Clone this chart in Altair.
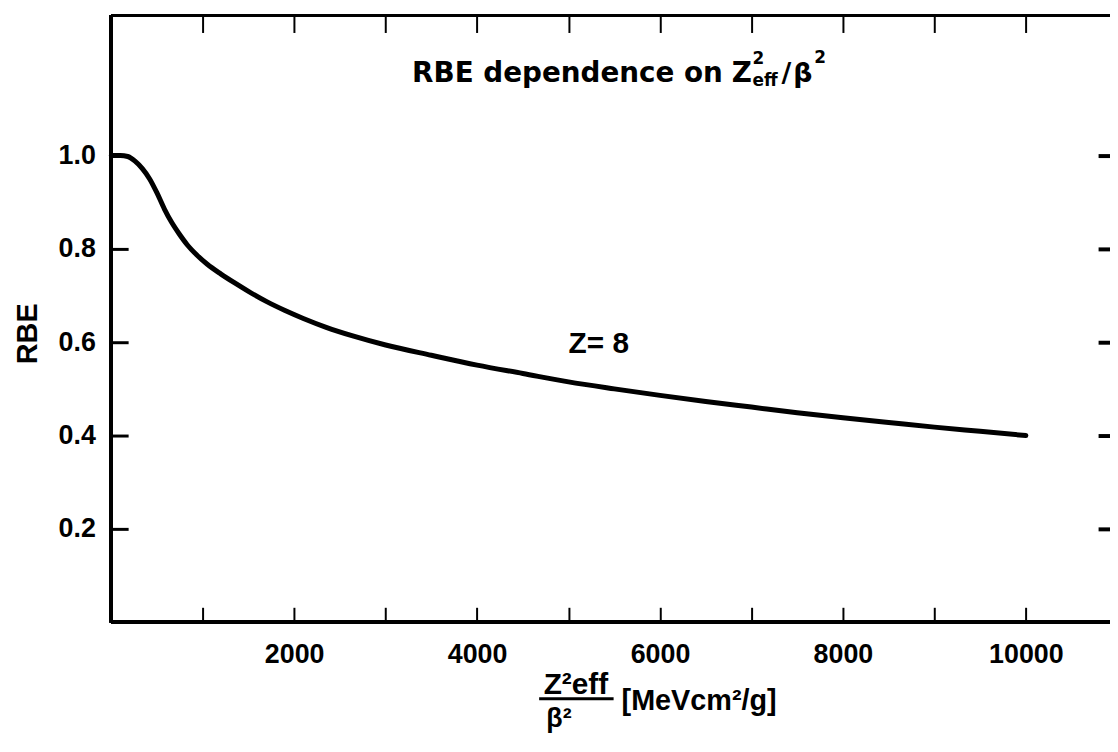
import altair as alt
import pandas as pd

# ---- data ----
x_vals = [0, 100, 180, 260, 340, 420, 500, 580, 660, 740,
          830, 930, 1050, 1200, 1350, 1500, 1700, 1900, 2100, 2350,
          2650, 3000, 3500, 4000, 4500, 5000, 5500, 6000, 6500, 7000,
          7500, 8000, 8500, 9000, 9500, 10000]
rbe_vals = [1.0, 1.0, 0.998, 0.988, 0.972, 0.950, 0.920, 0.886, 0.857, 0.833,
            0.809, 0.788, 0.767, 0.746, 0.727, 0.709, 0.687, 0.668, 0.651, 0.632,
            0.613, 0.594, 0.572, 0.551, 0.533, 0.515, 0.500, 0.486, 0.473, 0.461,
            0.449, 0.438, 0.428, 0.418, 0.409, 0.400]
x_ticks = [1000, 2000, 3000, 4000, 5000, 6000, 7000, 8000, 9000, 10000]
y_ticks = [0.2, 0.4, 0.6, 0.8, 1.0]
x_domain = [0, 10920]
y_domain = [0, 1.3]
curve_label = "Z= 8"
curve_label_pos = [5000, 0.577]

df = pd.DataFrame({"x": x_vals, "rbe": rbe_vals})

W, H = 1006, 611
LBL_FONT = "Liberation Sans"
TTL_FONT = "DejaVu Sans"

xscale = alt.Scale(domain=x_domain, nice=False, zero=False)
yscale = alt.Scale(domain=y_domain, nice=False, zero=False)

bottom_axis = alt.Axis(orient="bottom", values=x_ticks, domain=False, grid=False,
                       tickSize=15, offset=-15, tickWidth=2, tickColor="black",
                       labelPadding=20, labelFont=LBL_FONT, labelFontSize=27,
                       labelFontWeight="bold", labelColor="black",
                       labelFlush=False, labelOverlap=False,
                       labelExpr="datum.value % 2000 == 0 ? format(datum.value, 'd') : ''",
                       title=None)
left_axis = alt.Axis(orient="left", values=y_ticks, format=".1f", domain=False, grid=False,
                     tickSize=17, offset=-17, tickWidth=3, tickColor="black",
                     labelPadding=16, labelFont=LBL_FONT, labelFontSize=27,
                     labelFontWeight="bold", labelColor="black",
                     labelFlush=False, labelOverlap=False,
                     title="RBE", titleFont=LBL_FONT, titleFontSize=29,
                     titleFontWeight="bold", titleColor="black",
                     titleAngle=270, titleAlign="center", titleBaseline="middle",
                     titleX=-101, titleY=320)
top_axis = alt.Axis(orient="top", values=x_ticks, domain=False, grid=False,
                    tickSize=17, offset=-17, tickWidth=2, tickColor="black",
                    labels=False, title=None)
right_axis = alt.Axis(orient="right", values=y_ticks, domain=False, grid=False,
                      tickSize=12, offset=-12, tickWidth=4, tickColor="black",
                      labels=False, title=None)

curve = alt.Chart(df).mark_line(color="black", strokeWidth=5, interpolate="monotone",
                                strokeCap="round").encode(
    x=alt.X("x:Q", scale=xscale, axis=bottom_axis),
    y=alt.Y("rbe:Q", scale=yscale, axis=left_axis),
)
ghost = alt.Chart(df).mark_line(opacity=0).encode(
    x=alt.X("x:Q", scale=xscale, axis=top_axis),
    y=alt.Y("rbe:Q", scale=yscale, axis=right_axis),
)

frame_left = alt.Chart(df).mark_rule(color="black", strokeWidth=3).encode(
    x=alt.X(datum=x_domain[0], type="quantitative", scale=xscale, axis=None))
frame_bottom = alt.Chart(df).mark_rule(color="black", strokeWidth=3).encode(
    y=alt.Y(datum=y_domain[0], type="quantitative", scale=yscale, axis=None))
frame_top = alt.Chart(df).mark_rule(color="black", strokeWidth=3).encode(
    y=alt.Y(datum=y_domain[1], type="quantitative", scale=yscale, axis=None))

zlabel = alt.Chart(pd.DataFrame({"t": [curve_label]})).mark_text(
    font=LBL_FONT, fontSize=30, fontWeight="bold", color="black",
    align="left", baseline="alphabetic").encode(
    x=alt.X(datum=curve_label_pos[0], type="quantitative", scale=xscale, axis=None),
    y=alt.Y(datum=curve_label_pos[1], type="quantitative", scale=yscale, axis=None),
    text="t:N")


def txt(s, px, py, size, font=TTL_FONT, align="left"):
    return alt.Chart(pd.DataFrame({"t": [s]})).mark_text(
        font=font, fontSize=size, fontWeight="bold", color="black",
        align=align, baseline="alphabetic").encode(
        x=alt.value(px), y=alt.value(py), text="t:N")


# in-plot title: "RBE dependence on Z^2_eff / beta^2"
title_parts = [
    txt("RBE dependence on", 303, 67, 28),
    txt("Z", 625, 67, 28),
    txt("2", 646, 49, 17),
    txt("eff", 646, 71, 17),
    txt("/", 675, 67, 27),
    txt("β", 687, 67, 27),
    txt("2", 708, 48, 17),
]

# x-axis title as a fraction Z^2eff / beta^2 [MeVcm^2/g]
xtitle_parts = [
    txt("Z²eff", 468, 683, 30, font=LBL_FONT, align="center"),
    txt("β²", 451, 717, 27, font=LBL_FONT, align="center"),
    txt("[MeVcm²/g]", 514, 699, 29, font=LBL_FONT),
]
frac_bar = alt.Chart(pd.DataFrame({"t": [0]})).mark_rule(color="black", strokeWidth=3).encode(
    x=alt.value(431), x2=alt.value(506), y=alt.value(688))

chart = alt.layer(
    curve, ghost, frame_left, frame_bottom, frame_top, zlabel,
    *title_parts, *xtitle_parts, frac_bar
).resolve_axis(
    x="independent", y="independent"
).properties(
    width=W, height=H,
    autosize=alt.AutoSizeParams(type="none"),
    padding={"left": 104, "top": 5, "right": 0, "bottom": 114},
).configure_view(stroke="transparent")

chart.save("out.html", embed_options={"renderer": "svg", "actions": False})
